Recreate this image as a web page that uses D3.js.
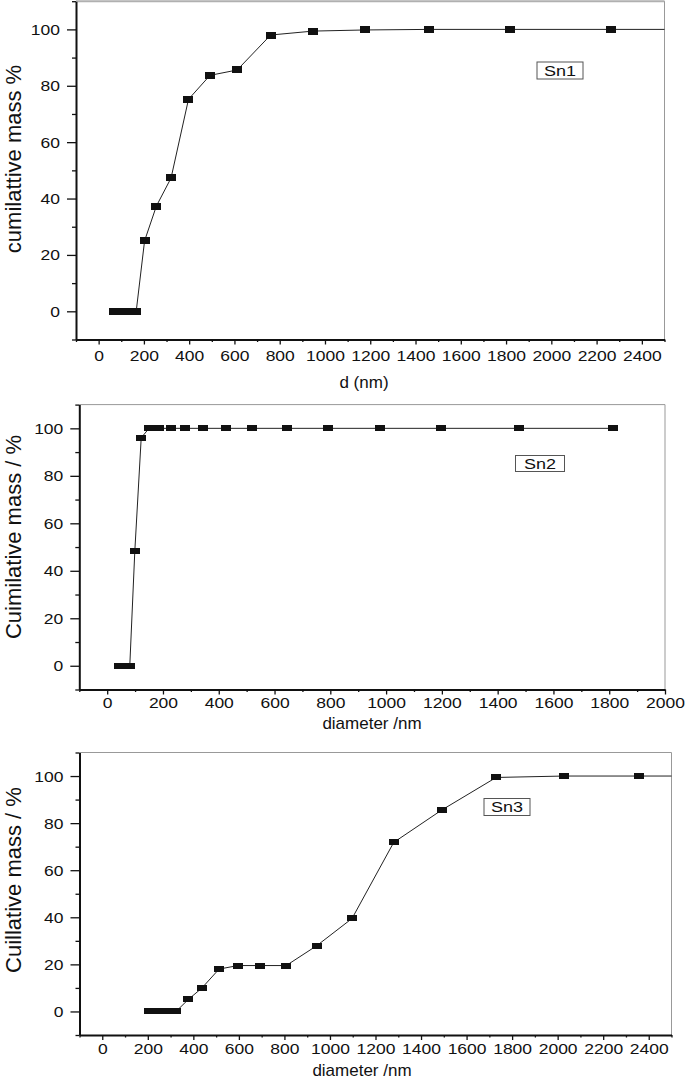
<!DOCTYPE html>
<html>
<head>
<meta charset="utf-8">
<script src="https://cdn.jsdelivr.net/npm/d3@7"></script>
<style>
  html, body { margin: 0; padding: 0; background: #fff; }
  svg { display: block; }
  text { font-family: "Liberation Sans", Arial, sans-serif; fill: #111; }
</style>
</head>
<body>
<svg id="chart" width="685" height="1082"></svg>
<script>
// ---------- DATA ----------
const sn1Diameter = [69, 86, 107, 133, 166, 203, 255, 320, 397, 492, 612, 760, 948, 1178, 1460, 1818, 2262, 2815];
const sn1Mass     = [0, 0, 0, 0, 0, 25.0, 37.3, 47.3, 75.2, 83.7, 85.6, 98.0, 99.4, 99.8, 100, 100, 100, 100];

const sn2Diameter = [44, 54, 66, 81, 99, 122, 150, 185, 230, 280, 344, 425, 521, 643, 793, 977, 1196, 1478, 1814];
const sn2Mass     = [0, 0, 0, 0, 48.2, 96.0, 100, 100, 100, 100, 100, 100, 100, 100, 100, 100, 100, 100, 100];

const sn3Diameter = [206, 240, 279, 324, 378, 437, 513, 596, 694, 808, 943, 1097, 1280, 1490, 1730, 2028, 2357, 2740];
const sn3Mass     = [0, 0, 0, 0, 5.1, 9.9, 18.0, 19.5, 19.5, 19.5, 28.0, 39.5, 71.8, 85.5, 99.4, 100, 100, 100];

const xTicks2500 = [0, 200, 400, 600, 800, 1000, 1200, 1400, 1600, 1800, 2000, 2200, 2400];
const xMinor2500 = [-100, 100, 300, 500, 700, 900, 1100, 1300, 1500, 1700, 1900, 2100, 2300, 2500];
const xTicks2000 = [0, 200, 400, 600, 800, 1000, 1200, 1400, 1600, 1800, 2000];
const xMinor2000 = [-100, 100, 300, 500, 700, 900, 1100, 1300, 1500, 1700, 1900];
const yTicks = [0, 20, 40, 60, 80, 100];
const yMinor = [-10, 10, 30, 50, 70, 90, 110];

const panelLabels = ["Sn1", "Sn2", "Sn3"];
const yTitles = ["cumilattive mass %", "Cuimilative mass / %", "Cuillative mass / %"];
const xTitles = ["d (nm)", "diameter /nm", "diameter /nm"];

// ---------- LAYOUT ----------
const panels = [
  { d: sn1Diameter, v: sn1Mass, xDom: [-100, 2500], xr: [76, 664.5], yr: [339.5, 1.2],
    xt: xTicks2500, xm: xMinor2500, mw: 10, mh: 7, tickLblDy: 16,
    leg: [537, 62, 46, 17], ytx: 20.5, yty: 159, xtx: 364, xty: 388, topStroke: "#b0b0b0", topW: 2 },
  { d: sn2Diameter, v: sn2Mass, xDom: [-100, 2000], xr: [79.3, 665], yr: [689.5, 404.6],
    xt: xTicks2000, xm: xMinor2000, mw: 10, mh: 6, tickLblDy: 13.5,
    leg: [515.5, 455.5, 49, 16], ytx: 21, yty: 537, xtx: 372, xty: 729, topStroke: "#999", topW: 1 },
  { d: sn3Diameter, v: sn3Mass, xDom: [-100, 2500], xr: [79.5, 671.5], yr: [1035, 752.5],
    xt: xTicks2500, xm: xMinor2500, mw: 10, mh: 6, tickLblDy: 13.5,
    leg: [484, 798.5, 46, 17], ytx: 21, yty: 880, xtx: 362, xty: 1076, topStroke: "#999", topW: 1 }
];

const svg = d3.select("#chart");
const KX = 1.25; // horizontal stretch of the small labels
const fmt = d3.format("d");

panels.forEach((p, i) => {
  const x = d3.scaleLinear().domain(p.xDom).range(p.xr);
  const y = d3.scaleLinear().domain([-10, 110]).range(p.yr);
  const g = svg.append("g");

  const [x0, x1] = p.xr;
  const [yb, yt] = p.yr;

  // top & right frame
  g.append("line").attr("x1", x0).attr("x2", x1).attr("y1", yt).attr("y2", yt)
    .attr("stroke", p.topStroke).attr("stroke-width", p.topW);
  g.append("line").attr("x1", x1).attr("x2", x1).attr("y1", yt).attr("y2", yb)
    .attr("stroke", "#999").attr("stroke-width", 1);

  // clip
  const clipId = "clip" + i;
  svg.append("clipPath").attr("id", clipId).append("rect")
    .attr("x", x0).attr("y", yt).attr("width", x1 - x0).attr("height", yb - yt);

  // data
  const pts = p.d.map((d, k) => [d, p.v[k]]);
  const plot = g.append("g").attr("clip-path", `url(#${clipId})`);
  plot.append("path")
    .datum(pts)
    .attr("fill", "none")
    .attr("stroke", "#222")
    .attr("stroke-width", 1)
    .attr("d", d3.line().x(q => x(q[0])).y(q => y(q[1])));
  plot.selectAll("rect.m").data(pts).enter().append("rect")
    .attr("class", "m")
    .attr("x", q => x(q[0]) - p.mw / 2)
    .attr("y", q => y(q[1]) - p.mh / 2)
    .attr("width", p.mw).attr("height", p.mh)
    .attr("shape-rendering", "crispEdges")
    .attr("fill", "#111");

  // x axis
  const xa = g.append("g").attr("transform", `translate(0,${yb})`);
  xa.call(d3.axisBottom(x).tickValues(p.xt).tickSize(5).tickSizeOuter(0).tickFormat(fmt));
  const xmi = g.append("g").attr("transform", `translate(0,${yb})`);
  xmi.call(d3.axisBottom(x).tickValues(p.xm).tickSize(2.5).tickFormat("").tickSizeOuter(0));
  xmi.select(".domain").remove();
  xa.select(".domain").attr("stroke", "#111").attr("stroke-width", 2);
  [xa, xmi].forEach(a => a.selectAll(".tick line").attr("stroke", "#111").attr("stroke-width", 1.3));
  xa.selectAll(".tick text")
    .attr("y", p.tickLblDy).attr("dy", "0.36em")
    .attr("transform", `scale(${KX},1)`)
    .style("font-size", "14px").attr("fill", "#111");

  // y axis
  const ya = g.append("g").attr("transform", `translate(${x0},0)`);
  ya.call(d3.axisLeft(y).tickValues(yTicks).tickSize(9).tickSizeOuter(0).tickFormat(fmt));
  const ymi = g.append("g").attr("transform", `translate(${x0},0)`);
  ymi.call(d3.axisLeft(y).tickValues(yMinor).tickSize(4).tickFormat("").tickSizeOuter(0));
  ymi.select(".domain").remove();
  ya.select(".domain").attr("stroke", "#111").attr("stroke-width", 2);
  [ya, ymi].forEach(a => a.selectAll(".tick line").attr("stroke", "#111").attr("stroke-width", 1.3));
  ya.selectAll(".tick text")
    .attr("x", -16 / KX).attr("dy", "0.36em")
    .attr("transform", `scale(${KX},1)`)
    .style("font-size", "14px").attr("fill", "#111");

  // legend box
  const [lx, ly, lw, lh] = p.leg;
  g.append("rect").attr("x", lx).attr("y", ly).attr("width", lw).attr("height", lh)
    .attr("fill", "#fff").attr("stroke", "#555").attr("stroke-width", 1);
  g.append("text")
    .attr("transform", `translate(${lx + lw / 2},${ly + lh / 2}) scale(1.2,1)`)
    .attr("text-anchor", "middle").attr("dy", "0.36em")
    .style("font-size", "15px")
    .text(panelLabels[i]);

  // axis titles
  g.append("text")
    .attr("transform", `translate(${p.ytx},${p.yty}) rotate(-90)`)
    .attr("text-anchor", "middle")
    .style("font-size", "22px")
    .text(yTitles[i]);
  g.append("text")
    .attr("x", p.xtx).attr("y", p.xty)
    .attr("text-anchor", "middle")
    .style("font-size", "17px")
    .text(xTitles[i]);
});
</script>
</body>
</html>
